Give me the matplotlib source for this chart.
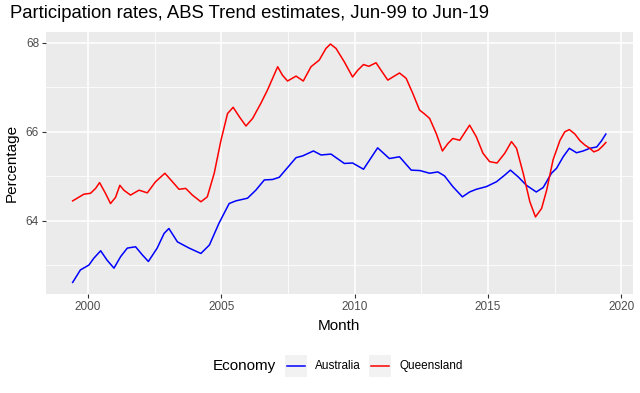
import matplotlib
matplotlib.use("Agg")
import matplotlib.pyplot as plt
from matplotlib.lines import Line2D
from matplotlib.patches import Rectangle

# decimal years and rates (Jun-99 .. Jun-19)
qld_year = [1999.42, 1999.59, 1999.84, 2000.09, 2000.28, 2000.43, 2000.65, 2000.84,
            2001.03, 2001.19, 2001.34, 2001.59, 2001.91, 2002.22, 2002.53, 2002.88,
            2003.22, 2003.41, 2003.66, 2003.91, 2004.23, 2004.47, 2004.73, 2004.98,
            2005.23, 2005.44, 2005.67, 2005.92, 2006.17, 2006.48, 2006.73, 2007.11,
            2007.29, 2007.48, 2007.80, 2008.07, 2008.36, 2008.67, 2008.92, 2009.09,
            2009.30, 2009.61, 2009.92, 2010.11, 2010.33, 2010.53, 2010.80, 2010.99,
            2011.24, 2011.43, 2011.68, 2011.93, 2012.18, 2012.43, 2012.62, 2012.81,
            2013.06, 2013.29, 2013.50, 2013.68, 2013.94, 2014.31, 2014.56, 2014.81,
            2015.06, 2015.34, 2015.63, 2015.88, 2016.07, 2016.32, 2016.57, 2016.78,
            2017.01, 2017.20, 2017.44, 2017.70, 2017.88, 2018.05, 2018.26, 2018.45,
            2018.64, 2018.82, 2018.97, 2019.14, 2019.30, 2019.42]
qld_rate = [64.45, 64.51, 64.60, 64.62, 64.73, 64.86, 64.62, 64.39,
            64.53, 64.80, 64.69, 64.58, 64.69, 64.63, 64.88, 65.07,
            64.84, 64.71, 64.73, 64.58, 64.43, 64.54, 65.07, 65.80,
            66.41, 66.55, 66.34, 66.13, 66.30, 66.64, 66.94, 67.46,
            67.27, 67.14, 67.25, 67.14, 67.46, 67.61, 67.87, 67.97,
            67.87, 67.57, 67.23, 67.38, 67.51, 67.47, 67.55, 67.38,
            67.16, 67.23, 67.32, 67.20, 66.86, 66.49, 66.40, 66.30,
            65.96, 65.57, 65.74, 65.85, 65.81, 66.15, 65.89, 65.52,
            65.33, 65.30, 65.52, 65.78, 65.63, 65.07, 64.43, 64.09,
            64.28, 64.69, 65.37, 65.81, 66.00, 66.05, 65.95, 65.80,
            65.70, 65.63, 65.55, 65.59, 65.68, 65.76]

aus_year = [1999.42, 1999.71, 2000.03, 2000.21, 2000.47, 2000.71, 2000.97, 2001.22,
            2001.47, 2001.78, 2002.03, 2002.26, 2002.59, 2002.85, 2003.03, 2003.35,
            2003.79, 2004.23, 2004.55, 2004.91, 2005.29, 2005.54, 2005.98, 2006.29,
            2006.61, 2006.92, 2007.17, 2007.80, 2008.05, 2008.45, 2008.74, 2009.11,
            2009.61, 2009.92, 2010.33, 2010.86, 2011.30, 2011.68, 2012.12, 2012.45,
            2012.81, 2013.12, 2013.37, 2013.68, 2014.04, 2014.31, 2014.56, 2014.94,
            2015.32, 2015.63, 2015.84, 2016.13, 2016.44, 2016.81, 2017.07, 2017.38,
            2017.57, 2017.82, 2018.05, 2018.32, 2018.57, 2018.82, 2019.08, 2019.26,
            2019.42]
aus_rate = [62.62, 62.90, 63.01, 63.16, 63.33, 63.12, 62.94, 63.20,
            63.39, 63.42, 63.24, 63.09, 63.39, 63.72, 63.83, 63.53,
            63.39, 63.27, 63.46, 63.95, 64.39, 64.45, 64.51, 64.69,
            64.92, 64.93, 64.98, 65.42, 65.46, 65.57, 65.48, 65.50,
            65.29, 65.30, 65.16, 65.64, 65.40, 65.44, 65.14, 65.13,
            65.07, 65.10, 65.01, 64.77, 64.54, 64.65, 64.71, 64.77,
            64.88, 65.03, 65.14, 64.99, 64.80, 64.65, 64.75, 65.07,
            65.18, 65.44, 65.63, 65.53, 65.57, 65.63, 65.66, 65.80,
            65.95]

x_ticks = [2000, 2005, 2010, 2015, 2020]
y_ticks = [64, 66, 68]
series = ["Australia", "Queensland"]
colours = {"Australia": "#0000FF", "Queensland": "#FF0000"}

plt.rcParams["font.family"] = ["Liberation Sans", "DejaVu Sans"]

W, H = 640, 393
fig = plt.figure(figsize=(W / 100, H / 100), dpi=100)

def fx(px):
    return px / W

def fy(py):
    return 1 - py / H

left, right, top, bottom = 46, 632.5, 32, 294
ax = fig.add_axes([fx(left), fy(bottom), fx(right - left), (bottom - top) / H])
ax.set_facecolor("#EBEBEB")
for s in ax.spines.values():
    s.set_visible(False)

ax.set_xlim(1998.42, 2020.42)
ax.set_ylim(62.36, 68.24)

ax.set_xticks(x_ticks)
ax.set_yticks(y_ticks)
ax.set_xticks([2002.5, 2007.5, 2012.5, 2017.5], minor=True)
ax.set_yticks([63, 65, 67], minor=True)
ax.grid(True, which="major", color="white", linewidth=1.1)
ax.grid(True, which="minor", color="white", linewidth=0.55)
ax.set_axisbelow(True)
ax.tick_params(which="major", length=3, width=0.8, color="#333333",
               labelsize=8.5, labelcolor="#4D4D4D", pad=2)
ax.tick_params(which="minor", length=0)

ax.plot(aus_year, aus_rate, color=colours["Australia"], linewidth=1.1,
        solid_joinstyle="round")
ax.plot(qld_year, qld_rate, color=colours["Queensland"], linewidth=1.1,
        solid_joinstyle="round")

ax.set_xlabel("Month", fontsize=11, labelpad=4)
ax.set_ylabel("Percentage", fontsize=11, labelpad=5)
fig.text(fx(10), fy(14), "Participation rates, ABS Trend estimates, Jun-99 to Jun-19",
         fontsize=13.3, ha="left", va="center")

# legend at bottom
ly = 366
fig.text(fx(213), fy(ly), "Economy", fontsize=11, ha="left", va="center")
key_x = {"Australia": 285, "Queensland": 369}
for name in series:
    kx = key_x[name]
    fig.add_artist(Rectangle((fx(kx), fy(ly + 11)), fx(22), 22 / H,
                             transform=fig.transFigure, facecolor="#F2F2F2",
                             edgecolor="none"))
    fig.add_artist(Line2D([fx(kx + 2), fx(kx + 20)], [fy(ly), fy(ly)],
                          transform=fig.transFigure, color=colours[name],
                          linewidth=1.1))
    fig.text(fx(kx + 30), fy(ly), name, fontsize=8.5, ha="left", va="center")

fig.savefig("out.png", dpi=100)
